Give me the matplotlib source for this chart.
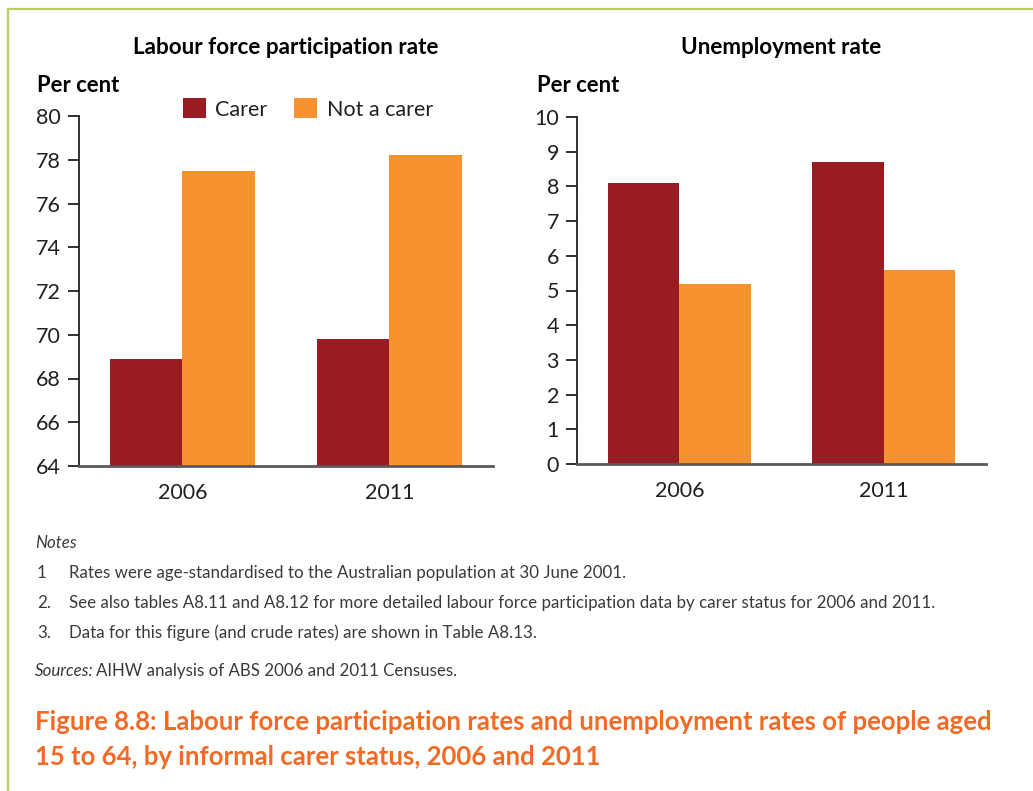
import matplotlib
matplotlib.use("Agg")
import matplotlib.pyplot as plt
from matplotlib.lines import Line2D
import numpy as np

# ---- data ----
years = ["2006", "2011"]
series_names = ["Carer", "Not a carer"]
participation_carer = [68.9, 69.8]
participation_not_carer = [77.5, 78.2]
unemployment_carer = [8.1, 8.7]
unemployment_not_carer = [5.2, 5.6]

left_title = "Labour force participation rate"
right_title = "Unemployment rate"
ylabel = "Per cent"
notes = [
    ("1", "Rates were age-standardised to the Australian population at 30 June 2001."),
    ("2.", "See also tables A8.11 and A8.12 for more detailed labour force participation data by carer status for 2006 and 2011."),
    ("3.", "Data for this figure (and crude rates) are shown in Table A8.13."),
]
sources_label = "Sources:"
sources_text = "AIHW analysis of ABS 2006 and 2011 Censuses."
fig_title = ["Figure 8.8: Labour force participation rates and unemployment rates of people aged",
             "15 to 64, by informal carer status, 2006 and 2011"]

# ---- style ----
W, H = 1033, 791
DPI = 100
C_CARER = "#981C20"
C_NOT = "#F7922F"
C_BORDER = "#B9CF62"
C_TITLE = "#F26A25"
FONT = "Lato"
plt.rcParams["font.family"] = [FONT, "DejaVu Sans"]

fig = plt.figure(figsize=(W / DPI, H / DPI), dpi=DPI)

def fx(px):
    return px / W

def fy(py):
    return 1 - py / H

def make_axes(l, r, t, b):
    return fig.add_axes([fx(l), fy(b), fx(r - l), (b - t) / H])

axL = make_axes(78.7, 493, 116, 466)
axR = make_axes(577, 986, 117, 464)

x = np.arange(len(years))
bw = 0.35

def style(ax, ylim, ticks):
    ax.set_xlim(-0.5, 1.5)
    ax.set_ylim(*ylim)
    ax.set_yticks(ticks)
    ax.set_xticks(x)
    ax.set_xticklabels(years)
    for s in ["top", "right"]:
        ax.spines[s].set_visible(False)
    ax.spines["left"].set_color("#231F20")
    ax.spines["left"].set_linewidth(1.3)
    ax.spines["bottom"].set_color("#58595B")
    ax.spines["bottom"].set_linewidth(2.0)
    ax.tick_params(axis="y", length=8, width=1.3, color="#231F20", pad=5, labelsize=15.5, labelcolor="#231F20")
    ax.tick_params(axis="x", length=0, pad=12, labelsize=15.5, labelcolor="#231F20")
    ax.spines["bottom"].set_zorder(5)

bL1 = axL.bar(x - bw / 2, participation_carer, bw, color=C_CARER, label=series_names[0])
bL2 = axL.bar(x + bw / 2, participation_not_carer, bw, color=C_NOT, label=series_names[1])
style(axL, (64, 80), np.arange(64, 81, 2))

axR.bar(x - bw / 2, unemployment_carer, bw, color=C_CARER)
axR.bar(x + bw / 2, unemployment_not_carer, bw, color=C_NOT)
style(axR, (0, 10), np.arange(0, 11, 1))

# titles
TS = 16.2
fig.text(fx(286), fy(48), left_title, ha="center", va="center", fontsize=TS, fontweight="bold", color="#000000")
fig.text(fx(781), fy(48), right_title, ha="center", va="center", fontsize=TS, fontweight="bold", color="#000000")
fig.text(fx(37), fy(86), ylabel, ha="left", va="center", fontsize=15.8, fontweight="bold", color="#000000")
fig.text(fx(537), fy(86), ylabel, ha="left", va="center", fontsize=15.8, fontweight="bold", color="#000000")

# legend
fig.legend(handles=[bL1, bL2], labels=series_names, loc="center left",
           bbox_to_anchor=(fx(183), fy(109)), ncol=2, frameon=False,
           fontsize=15.5, handlelength=1.05, handleheight=1.05,
           handletextpad=0.45, columnspacing=1.25, borderpad=0, borderaxespad=0,
           labelcolor="#231F20")

# notes
NC = "#3A3A3A"
NS = 12.2
fig.text(fx(35), fy(543), "Notes", ha="left", va="center", fontsize=NS, fontstyle="italic", color=NC)
for i, (num, txt) in enumerate(notes):
    yy = 573 + 30 * i
    fig.text(fx(37), fy(yy), num, ha="left", va="center", fontsize=NS, color=NC)
    fig.text(fx(69), fy(yy), txt, ha="left", va="center", fontsize=NS, color=NC)
fig.text(fx(35), fy(671), sources_label, ha="left", va="center", fontsize=NS, fontstyle="italic", color=NC)
fig.text(fx(96), fy(671), sources_text, ha="left", va="center", fontsize=NS, color=NC)

# figure title
for i, line in enumerate(fig_title):
    fig.text(fx(35), fy(722 + 35 * i), line, ha="left", va="center", fontsize=18.5, fontweight="bold", color=C_TITLE)

# border
fig.add_artist(Line2D([fx(8), 1.0], [fy(9), fy(9)], color=C_BORDER, lw=1.6, transform=fig.transFigure))
fig.add_artist(Line2D([fx(8), fx(8)], [fy(9), 0], color=C_BORDER, lw=1.6, transform=fig.transFigure))

fig.savefig("out.png", dpi=DPI)
